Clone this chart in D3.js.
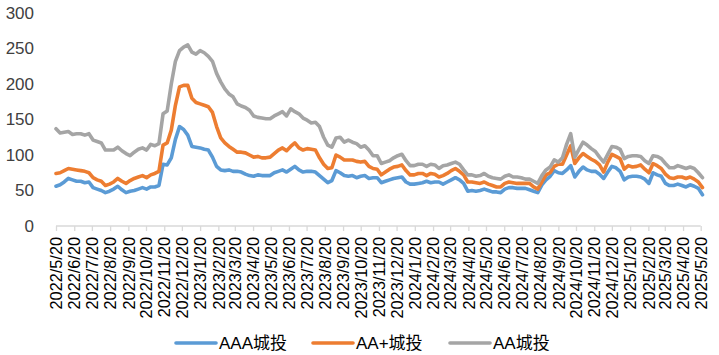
<!DOCTYPE html>
<html><head><meta charset="utf-8">
<script src="https://cdn.jsdelivr.net/npm/d3@7"></script>
<style>
html,body{margin:0;padding:0;background:#fff;}
svg{display:block;font-family:"Liberation Sans","Noto Sans CJK SC",sans-serif;}
</style></head>
<body>
<svg id="chart" width="719" height="355"></svg>
<script>
const seriesNames = ["AAA城投", "AA+城投", "AA城投"];
const seriesColors = ["#5B9BD5", "#ED7D31", "#A5A5A5"];
const startDate = "2022/5/20";
const weekCount = 158;
const yTicks = [0, 50, 100, 150, 200, 250, 300];
const xTickLabels = [
 "2022/5/20","2022/6/20","2022/7/20","2022/8/20","2022/9/20","2022/10/20","2022/11/20","2022/12/20",
 "2023/1/20","2023/2/20","2023/3/20","2023/4/20","2023/5/20","2023/6/20","2023/7/20","2023/8/20",
 "2023/9/20","2023/10/20","2023/11/20","2023/12/20","2024/1/20","2024/2/20","2024/3/20","2024/4/20",
 "2024/5/20","2024/6/20","2024/7/20","2024/8/20","2024/9/20","2024/10/20","2024/11/20","2024/12/20",
 "2025/1/20","2025/2/20","2025/3/20","2025/4/20","2025/5/20"];

const aaa = [56,58,62,67,65,63,63,61,62,54,52,50,47,49,52,56,51,47,49,50,
 52,54,52,55,55,57,87,86,96,122,140,136,128,112,111,110,108,107,97,84,
 79,78,79,77,77,76,73,71,70,72,71,71,71,75,77,79,76,80,84,79,
 76,77,77,76,71,66,61,64,78,75,71,70,71,68,70,71,67,68,68,61,
 63,65,67,68,69,62,59,59,60,61,63,61,62,62,59,62,65,68,65,60,
 49,50,49,50,52,50,48,48,47,52,54,54,53,53,53,51,49,47,58,65,
 70,78,75,74,79,85,69,77,83,79,77,77,73,67,76,84,82,77,65,69,
 70,70,69,66,60,75,72,70,60,57,57,59,57,55,58,56,53,44];
const aaPlus = [74,75,78,81,80,79,78,77,75,68,65,63,57,59,62,67,63,60,64,67,
 69,71,68,72,74,77,114,117,135,170,196,198,198,180,174,172,170,168,160,140,
 124,117,112,108,104,104,103,100,97,98,96,96,97,102,107,110,106,112,117,110,
 107,109,108,107,96,87,81,82,100,97,93,93,93,91,90,91,84,81,80,72,
 76,80,83,84,86,78,72,72,74,74,71,74,73,69,71,74,78,81,77,72,
 62,62,61,60,62,59,57,55,55,60,62,61,60,60,60,60,55,52,62,72,
 75,84,87,87,100,113,88,96,102,98,94,91,86,76,90,101,98,95,80,85,
 83,84,86,80,75,88,85,81,73,68,67,69,69,67,69,66,62,54];
const aa = [137,131,132,133,129,130,130,128,130,121,119,117,107,107,107,111,106,102,99,104,
 108,110,107,115,113,116,158,162,200,232,247,252,255,245,242,247,244,239,232,215,
 203,193,186,182,172,169,167,163,155,153,152,151,151,155,158,161,155,165,161,158,
 152,149,145,146,140,125,114,111,124,125,118,121,118,116,111,113,107,99,99,88,
 90,92,96,99,101,92,85,85,87,87,84,87,86,81,85,86,88,90,87,79,
 72,72,70,71,74,70,68,67,66,70,72,69,69,68,66,66,63,60,71,79,
 83,93,90,96,115,130,97,108,118,114,109,105,97,90,101,112,111,108,95,98,
 99,99,98,92,88,99,98,95,88,82,82,85,83,81,83,81,75,68];

const seriesValues = [aaa, aaPlus, aa];
const parse = d3.timeParse("%Y/%m/%d");
const t0 = parse(startDate);
const dates = d3.range(weekCount).map(i => d3.timeDay.offset(t0, 7 * i));
const tickDates = xTickLabels.map(parse);

const svg = d3.select("#chart");
const x = d3.scaleTime().domain([tickDates[0], tickDates[tickDates.length - 1]]).range([56, 700.7]);
const y = d3.scaleLinear().domain([0, 300]).range([226, 13]);

// y axis labels
const yAxis = d3.axisLeft(y).tickValues(yTicks).tickSize(0).tickPadding(0);
const gy = svg.append("g").attr("transform", "translate(34,0)").call(yAxis);
gy.select(".domain").remove();
gy.selectAll("text").attr("font-size", 17).attr("fill", "#404040")
  .attr("font-family", '"Liberation Sans",sans-serif');

// x axis
const xAxis = d3.axisBottom(x).tickValues(tickDates).tickSize(5).tickFormat((d, i) => xTickLabels[i]);
const gx = svg.append("g").attr("transform", "translate(0,226)").call(xAxis);
gx.select(".domain").attr("stroke", "#D9D9D9").attr("stroke-width", 1.3)
  .attr("d", "M56,0H700.7");
gx.selectAll(".tick line").attr("stroke", "#D9D9D9").attr("stroke-width", 1.3);
gx.selectAll(".tick text")
  .attr("font-size", 16.3).attr("fill", "#000")
  .attr("font-family", '"Liberation Sans",sans-serif')
  .attr("text-anchor", "end")
  .attr("transform", "rotate(-90)")
  .attr("x", -11).attr("y", 0).attr("dy", "0.35em");

// lines
const line = d3.line().x((d, i) => x(dates[i])).y(d => y(d)).curve(d3.curveLinear);
seriesValues.forEach((vals, k) => {
  svg.append("path").datum(vals)
    .attr("fill", "none").attr("stroke", seriesColors[k])
    .attr("stroke-width", 3.6).attr("stroke-linejoin", "round").attr("stroke-linecap", "round")
    .attr("d", line);
});

// legend
const legendX = [176, 313, 450];
seriesNames.forEach((name, k) => {
  const g = svg.append("g").attr("transform", `translate(${legendX[k]},343)`);
  g.append("line").attr("x1", 0).attr("x2", 40).attr("y1", 0).attr("y2", 0)
    .attr("stroke", seriesColors[k]).attr("stroke-width", 3.6).attr("stroke-linecap", "round");
  g.append("text").attr("x", 43).attr("y", 0).attr("dy", "0.36em")
    .attr("font-size", 17).attr("fill", "#000").text(name);
});
</script>
</body></html>
